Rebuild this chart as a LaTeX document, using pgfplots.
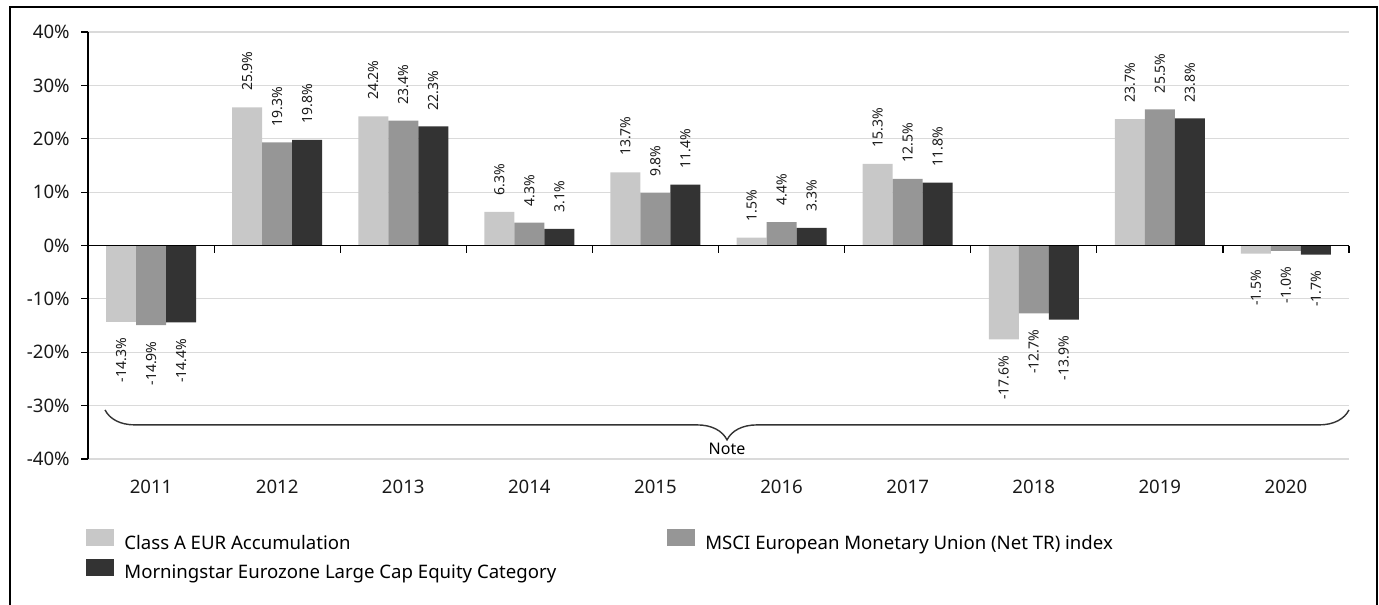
\documentclass[border=0pt]{standalone}
\usepackage{fontspec}
\setmainfont{Noto Sans}
\usepackage{graphicx}
\usepackage{pgfplots}
\pgfplotsset{compat=1.18}
\usetikzlibrary{decorations.pathreplacing}
\definecolor{cA}{HTML}{C8C8C8}
\definecolor{cB}{HTML}{969696}
\definecolor{cC}{HTML}{333333}
\definecolor{gridc}{HTML}{DADADA}
\begin{document}
\begin{tikzpicture}
\useasboundingbox (0,0) rectangle (689.5pt,302pt);
\draw[line width=0.6pt, black] (5pt,-2pt) -- (5pt,298.5pt) -- (688.5pt,298.5pt) -- (688.5pt,-2pt);
\begin{axis}[
  at={(44pt,72.5pt)}, anchor=south west,
  scale only axis, width=630.5pt, height=213.5pt,
  ybar, bar width=15pt,
  xmin=-0.5, xmax=9.5, ymin=-40, ymax=40,
  enlargelimits=false,
  clip=false,
  axis lines*=left,
  axis line style={-},
  x axis line style={draw=none},
  y axis line style={black, line width=0.6pt},
  xtick={0,...,9},
  xticklabels={2011,2012,2013,2014,2015,2016,2017,2018,2019,2020},
  xtick style={draw=none},
  ytick={-40,-30,...,40},
  yticklabels={-40\%,-30\%,-20\%,-10\%,0\%,10\%,20\%,30\%,40\%},
  ytick style={black, line width=0.6pt},
  tick align=outside,
  major tick length=3.5pt,
  ymajorgrids,
  grid style={gridc, line width=0.6pt},
  tick label style={font=\fontsize{9.3}{11}\selectfont, text=black!90},
  yticklabel style={inner sep=0pt, xshift=-5.5pt},
  xticklabel style={inner sep=0pt, yshift=-7pt},
  nodes near coords={\rotatebox{90}{\hspace{8pt}\pgfmathprintnumber[fixed,fixed zerofill,precision=1,assume math mode=true]{\pgfplotspointmeta}\%\hspace{8pt}}},
  every node near coord/.append style={font=\fontsize{7}{8}\selectfont, inner sep=0pt, text=black!90},
  legend columns=2,
  legend cell align=left,
  legend style={draw=none, fill=none, at={(axis description cs:-0.0016,-0.163)}, anchor=north west,
    font=\fontsize{9.3}{11}\selectfont, inner sep=0pt, row sep=3pt,
    nodes={inner sep=0pt},
    /tikz/every odd column/.append style={column sep=5pt},
    /tikz/every even column/.append style={column sep=55.5pt}},
  legend image code/.code={\fill[#1] (0pt,-1pt) rectangle (14pt,7.5pt);},
]
\addplot[fill=cA, draw=none, bar shift=-15pt] coordinates {
 (0,-14.3) (1,25.9) (2,24.2) (3,6.3) (4,13.7) (5,1.5) (6,15.3) (7,-17.6) (8,23.7) (9,-1.5)};
\addlegendentry{Class A EUR Accumulation}
\addplot[fill=cB, draw=none, bar shift=0pt] coordinates {
 (0,-14.9) (1,19.3) (2,23.4) (3,4.3) (4,9.8) (5,4.4) (6,12.5) (7,-12.7) (8,25.5) (9,-1.0)};
\addlegendentry{MSCI European Monetary Union (Net TR) index}
\addplot[fill=cC, draw=none, bar shift=15pt] coordinates {
 (0,-14.4) (1,19.8) (2,22.3) (3,3.1) (4,11.4) (5,3.3) (6,11.8) (7,-13.9) (8,23.8) (9,-1.7)};
\addlegendentry{Morningstar Eurozone Large Cap Equity Category}
\draw[black, line width=0.6pt] (axis cs:-0.5,0) -- (axis cs:9.5,0);
\draw[black, line width=0.6pt]
 (axis cs:0.5,0) -- ++(0pt,-3.5pt) (axis cs:1.5,0) -- ++(0pt,-3.5pt)
 (axis cs:2.5,0) -- ++(0pt,-3.5pt) (axis cs:3.5,0) -- ++(0pt,-3.5pt)
 (axis cs:4.5,0) -- ++(0pt,-3.5pt) (axis cs:5.5,0) -- ++(0pt,-3.5pt)
 (axis cs:6.5,0) -- ++(0pt,-3.5pt) (axis cs:7.5,0) -- ++(0pt,-3.5pt)
 (axis cs:8.5,0) -- ++(0pt,-3.5pt) (axis cs:9.5,0) -- ++(0pt,-3.5pt);
\draw[decorate, decoration={brace, mirror, amplitude=15pt}, line width=0.7pt, color=black!80]
 (axis cs:-0.365,-30.8) -- (axis cs:9.5,-30.8)
 node[midway, below=16pt, inner sep=0pt, text=black, font=\fontsize{8}{9}\selectfont] {Note};
\end{axis}
\end{tikzpicture}
\end{document}
